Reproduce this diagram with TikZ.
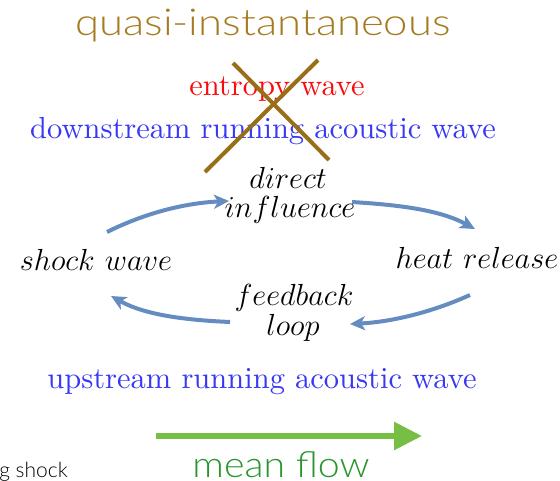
\RequirePackage{fix-cm}
\documentclass[tikz,border=0pt]{standalone}
\usepackage{fontspec}
\usepackage{graphicx}
\setmainfont{lmroman10-regular}[Extension=.otf]
\newfontfamily\lightsans{Lato Light}
\usetikzlibrary{arrows.meta}
\definecolor{brownq}{RGB}{166,122,32}
\definecolor{xbrown}{RGB}{152,110,25}
\definecolor{wblue}{RGB}{55,55,245}
\definecolor{wred}{RGB}{250,10,10}
\definecolor{arrblue}{RGB}{100,140,192}
\definecolor{flowgreen}{RGB}{118,190,68}
\definecolor{textgreen}{RGB}{40,150,45}
\begin{document}
\begin{tikzpicture}[x=1pt,y=-1pt,
  lbl/.style={font=\fontsize{30.5}{30.5}\selectfont, inner sep=0pt, anchor=base},
  sanslbl/.style={inner sep=0pt, anchor=base},
  cyc/.style={arrblue, line width=4pt, -{Stealth[length=15pt,width=14pt,inset=4pt]}},
  cross/.style={xbrown, line width=4pt}
]
\useasboundingbox (0,0) rectangle (560,480);
\node[sanslbl, text=brownq, font=\lightsans\fontsize{37}{37}\selectfont] (qi) at (263,35) {\scalebox{1.18}[1]{quasi-instantaneous}};
\node[lbl, text=wred] (ent) at (277,95) {entropy wave};
\node[lbl, text=wblue] (down) at (263,138) {downstream running acoustic wave};
\coordinate (xa1) at (233,63);
\coordinate (xa2) at (329,160);
\coordinate (xb1) at (318,60);
\coordinate (xb2) at (205,172);
\draw[cross] (xa1) -- (xa2);
\draw[cross] (xb1) -- (xb2);
\node[lbl] (dir) at (288,188) {$direct$};
\node[lbl] (infl) at (290,217) {$influence$};
\node[lbl] (sw) at (96,270) {$shock\ wave$};
\node[lbl] (hr) at (477,268) {$heat\ release$};
\node[lbl] (fb) at (294,305) {$feedback$};
\node[lbl] (lp) at (293,335) {$loop$};
\node[lbl, text=wblue] (up) at (262,388) {upstream running acoustic wave};
\coordinate (a1s) at (107,232);
\coordinate (a1e) at (229,201);
\coordinate (a2s) at (352,202);
\coordinate (a2e) at (475,229);
\coordinate (a3s) at (470,295);
\coordinate (a3e) at (350,324);
\coordinate (a4s) at (230,322);
\coordinate (a4e) at (111,296);
\draw[cyc] (a1s) .. controls (145,213) and (185,203) .. (a1e);
\draw[cyc] (a2s) .. controls (400,205) and (440,210) .. (a2e);
\draw[cyc] (a3s) .. controls (430,313) and (390,322) .. (a3e);
\draw[cyc] (a4s) .. controls (185,320) and (145,315) .. (a4e);
\coordinate (mfs) at (156,436);
\coordinate (mfe) at (422,436);
\draw[flowgreen, line width=6pt, -{Triangle[length=28pt,width=27pt]}] (mfs) -- (mfe);
\node[sanslbl, text=textgreen, font=\lightsans\fontsize{36}{36}\selectfont] (mf) at (281,477) {\scalebox{1.09}[1]{mean flow}};
\node[sanslbl, anchor=base east, font=\lightsans\fontsize{21}{21}\selectfont] (sh) at (68,477) {ing shock};
\end{tikzpicture}
\end{document}
